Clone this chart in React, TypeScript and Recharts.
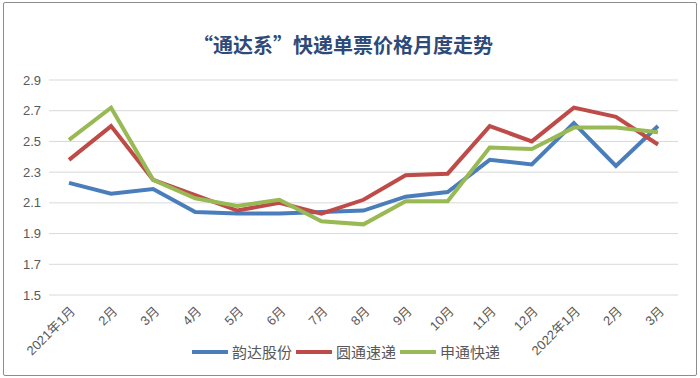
import React from 'react'
import { CartesianGrid, Line, LineChart, XAxis, YAxis } from 'recharts'

const months = [
  '2021年1月', '2月', '3月', '4月', '5月', '6月', '7月', '8月',
  '9月', '10月', '11月', '12月', '2022年1月', '2月', '3月',
]

const yunda = [2.23, 2.16, 2.19, 2.04, 2.03, 2.03, 2.04, 2.05, 2.14, 2.17, 2.38, 2.35, 2.62, 2.34, 2.6]
const yto = [2.38, 2.6, 2.25, 2.15, 2.05, 2.1, 2.03, 2.12, 2.28, 2.29, 2.6, 2.5, 2.72, 2.66, 2.48]
const sto = [2.51, 2.72, 2.25, 2.13, 2.08, 2.12, 1.98, 1.96, 2.11, 2.11, 2.46, 2.45, 2.59, 2.59, 2.56]

const yTicks = [1.5, 1.7, 1.9, 2.1, 2.3, 2.5, 2.7, 2.9]

const seriesList = [
  { key: 'yunda', name: '韵达股份', color: '#4A7EBB' },
  { key: 'yto', name: '圆通速递', color: '#BE4B48' },
  { key: 'sto', name: '申通快递', color: '#98B954' },
]

const data = months.map((m, i) => ({
  month: m,
  idx: i,
  yunda: yunda[i],
  yto: yto[i],
  sto: sto[i],
}))

// rotated month labels, right end sits just under the point
const MonthTick = (props: any) => {
  const { x, y, payload } = props
  return (
    <g transform={`translate(${x + 7},${y + 9})`}>
      <text
        textAnchor='end'
        transform='rotate(-45)'
        fill='#595959'
        fontSize={13}
        fontFamily='"Liberation Sans", "Noto Sans CJK SC", sans-serif'
      >
        {months[payload.value]}
      </text>
    </g>
  )
}

export default function App() {
  return (
    <div
      style={{
        position: 'absolute',
        left: 0,
        top: 0,
        width: 700,
        height: 378,
        background: '#fff',
        fontFamily: '"Noto Sans CJK SC", sans-serif',
      }}
    >
      <div
        style={{
          position: 'absolute',
          left: 3,
          top: 2,
          width: 692,
          height: 372,
          border: '1px solid #8c8c8c',
          borderRadius: 2,
        }}
      />
      <div
        style={{
          position: 'absolute',
          top: 30,
          left: 0,
          width: 686,
          textAlign: 'center',
          fontSize: 20,
          fontWeight: 'bold',
          color: '#2E4A78',
          lineHeight: '30px',
        }}
      >
        “通达系”快递单票价格月度走势
      </div>
      <LineChart
        width={700}
        height={378}
        data={data}
        margin={{ top: 80, right: 22, left: 0, bottom: 23 }}
      >
        <CartesianGrid vertical={false} stroke='#d9d9d9' />
        <XAxis
          dataKey='idx'
          type='category'
          interval={0}
          axisLine={false}
          tickLine={false}
          height={60}
          padding={{ left: 20, right: 20 }}
          tick={<MonthTick />}
        />
        <YAxis
          domain={[1.5, 2.9]}
          ticks={yTicks}
          width={49}
          axisLine={false}
          tickLine={false}
          tickFormatter={(v: number) => v.toFixed(1)}
          tick={{
            fill: '#595959',
            fontSize: 13,
            fontFamily: '"Liberation Sans", sans-serif',
          }}
        />
        {seriesList.map((s) => (
          <Line
            key={s.key}
            dataKey={s.key}
            name={s.name}
            stroke={s.color}
            strokeWidth={4}
            dot={false}
            type='linear'
            isAnimationActive={false}
          />
        ))}
      </LineChart>
      <div
        style={{
          position: 'absolute',
          top: 341,
          left: 192,
          display: 'flex',
          alignItems: 'center',
          fontSize: 15,
          color: '#595959',
        }}
      >
        {seriesList.map((s) => (
          <div key={s.key} style={{ display: 'flex', alignItems: 'center', marginRight: 4 }}>
            <span
              style={{
                display: 'inline-block',
                width: 36,
                height: 4,
                background: s.color,
                marginRight: 4,
              }}
            />
            <span>{s.name}</span>
          </div>
        ))}
      </div>
    </div>
  )
}
